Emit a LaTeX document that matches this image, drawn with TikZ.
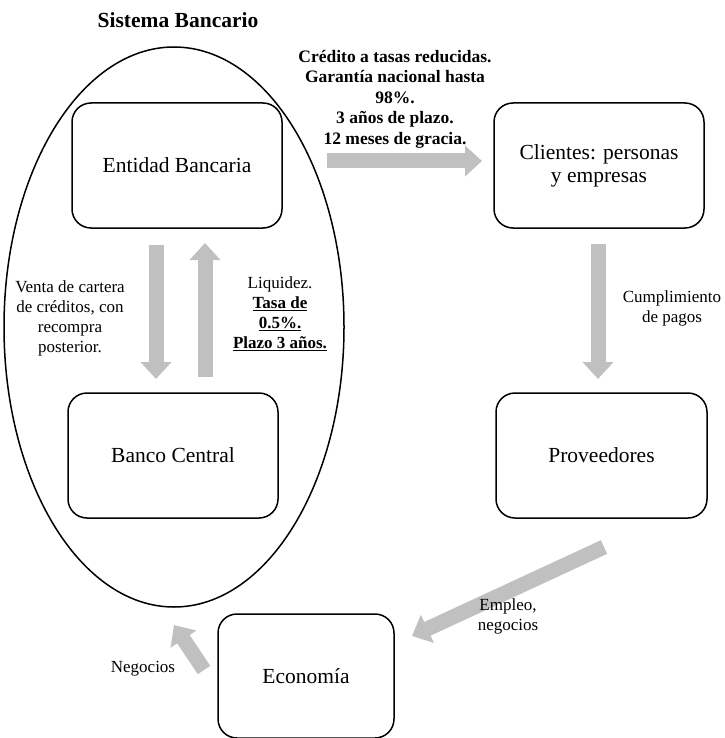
\documentclass[tikz,border=0pt]{standalone}
\usepackage{fontspec}
\setmainfont{Liberation Serif}
\usetikzlibrary{arrows.meta}
\definecolor{gris}{RGB}{192,192,192}

\tikzset{
  caja/.style={draw,line width=1.5pt,rounded corners=19pt,minimum width=210pt,minimum height=125pt,align=center,font=\fontsize{21.5}{23}\selectfont},
  texto/.style={align=center,font=\fontsize{17}{20}\selectfont},
  flecha/.style={draw=gris,line width=15pt,-{Triangle[length=17pt,width=30pt]}}
}

\begin{document}
\begin{tikzpicture}[x=1pt,y=-1pt]
    \useasboundingbox (0,0) rectangle (724,738);
    % Title and the ellipse round the banking system
    \node[font=\fontsize{21.5}{24}\selectfont\bfseries] (titulo) at (178,20) {Sistema Bancario};
    \draw[line width=1.5pt] (174,327) ellipse [x radius=170, y radius=280];
    % Boxes
    \node[caja] (entidad) at (177,165.5) {Entidad Bancaria};
    \node[caja] (banco) at (173,455.5) {Banco Central};
    \node[caja] (clientes) at (599,165.5) {Clientes: personas\\y empresas};
    \node[caja,minimum width=211pt] (proveedores) at (601.5,455.5) {Proveedores};
    \node[caja,minimum width=176pt,minimum height=124pt] (economia) at (306,676) {Economía};
    % End points of the gray arrows
    \coordinate (h1) at (327,161);  \coordinate (h2) at (482,161);
    \coordinate (b1) at (156,245);  \coordinate (b2) at (156,379);
    \coordinate (s1) at (205,377);  \coordinate (s2) at (205,243);
    \coordinate (p1) at (598,244);  \coordinate (p2) at (598,379);
    \coordinate (d1) at (604,547);  \coordinate (d2) at (412,636);
    \coordinate (n1) at (204,670);  \coordinate (n2) at (174,625);
    % Arrows
    \draw[flecha] (h1) -- (h2);
    \draw[flecha] (b1) -- (b2);
    \draw[flecha] (s1) -- (s2);
    \draw[flecha] (p1) -- (p2);
    \draw[flecha] (d1) -- (d2);
    \draw[flecha] (n1) -- (n2);
    % Labels
    \node[texto,font=\fontsize{17.5}{20.5}\selectfont\bfseries] (credito) at (395,99) {Crédito a tasas reducidas.\\Garantía nacional hasta\\98\%.\\3 años de plazo.\\12 meses de gracia.};
    \node[texto] (venta) at (70,318) {Venta de cartera\\de créditos, con\\recompra\\posterior.};
    \node[texto] (liquidez) at (280,314) {Liquidez.\\\underline{\textbf{Tasa de}}\\\underline{\textbf{0.5\%.}}\\\underline{\textbf{Plazo 3 años.}}};
    \node[texto] (pagos) at (672,308.5) {Cumplimiento\\de pagos};
    \node[texto] (empleo) at (508,616) {Empleo,\\negocios};
    \node[texto] (negocios) at (143,669) {Negocios};
\end{tikzpicture}
\end{document}
